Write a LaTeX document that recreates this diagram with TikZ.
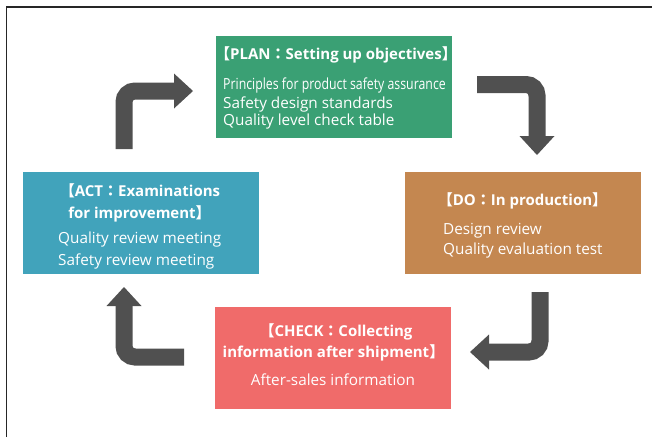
\documentclass[tikz,border=0pt]{standalone}
\usepackage{fontspec}
\usepackage{graphicx}
\setmainfont{Open Sans}
\newfontfamily\cjk{Noto Sans CJK JP}
\usetikzlibrary{arrows.meta}
\definecolor{plangreen}{RGB}{58,160,116}
\definecolor{dobrown}{RGB}{196,135,80}
\definecolor{checkred}{RGB}{240,107,106}
\definecolor{actblue}{RGB}{65,163,187}
\definecolor{arrowgray}{RGB}{80,80,80}
\newcommand{\lbr}{{\cjk 【}}
\newcommand{\rbr}{{\cjk 】}}
\newcommand{\fcolon}{{\cjk ：}}
\tikzset{
  stagebox/.style={rectangle,inner sep=0pt,minimum width=236pt,minimum height=102pt},
  headtext/.style={text=white,inner sep=0pt,font=\bfseries\fontsize{15}{18}\selectfont},
  bodytext/.style={text=white,inner sep=0pt,font=\fontsize{15.3}{18}\selectfont},
  turn/.style={draw=arrowgray,line width=17pt,rounded corners=11pt,
    -{Triangle[length=19pt,width=35pt,line width=0pt]}}
}
\begin{document}
\begin{tikzpicture}[x=1pt,y=-1pt]
  \useasboundingbox (0,0) rectangle (652,437);
  \draw[line width=1.5pt,black!85] (6.5,437) -- (6.5,7) -- (652,7);

  % the four stages
  \node[stagebox,fill=plangreen] (plan) at (333.5,87) {};
  \node[stagebox,fill=dobrown] (do) at (523,222.5) {};
  \node[stagebox,fill=checkred] (check) at (333,358) {};
  \node[stagebox,fill=actblue] (act) at (141,223) {};

  % texts
  \node[headtext,anchor=base] (planhead) at (336,59.5) {\lbr PLAN\fcolon Setting up objectives\rbr};
  \node[bodytext,anchor=base west] (plan1) at (223,89) {\scalebox{0.805}[1]{Principles for product safety assurance}};
  \node[bodytext,anchor=base west] (plan2) at (223,108) {Safety design standards};
  \node[bodytext,anchor=base west] (plan3) at (223,125) {Quality level check table};

  \node[headtext,anchor=base] (dohead) at (522.5,205) {\lbr DO\fcolon In production\rbr};
  \node[bodytext,anchor=base west] (do1) at (443,234) {Design review};
  \node[bodytext,anchor=base west] (do2) at (443,254) {Quality evaluation test};

  \node[headtext,anchor=base] (checkhead1) at (336,336) {\lbr CHECK\fcolon Collecting};
  \node[headtext,anchor=base] (checkhead2) at (333.5,357) {information after shipment\rbr};
  \node[bodytext,anchor=base] (check1) at (333,385) {After-sales information};

  \node[headtext,anchor=base] (acthead1) at (140,196) {\lbr ACT\fcolon Examinations};
  \node[headtext,anchor=base] (acthead2) at (139.5,218) {for improvement\rbr};
  \node[bodytext,anchor=base west] (act1) at (58,243) {Quality review meeting};
  \node[bodytext,anchor=base west] (act2) at (58,265) {Safety review meeting};

  % bent arrows between the stages
  \coordinate (a1s) at (124,149); \coordinate (a1c) at (124,91); \coordinate (a1e) at (193,91);
  \coordinate (a2s) at (477,84.5); \coordinate (a2c) at (537,84.5); \coordinate (a2e) at (537,155);
  \coordinate (a3s) at (540,292); \coordinate (a3c) at (540,352); \coordinate (a3e) at (470,352);
  \coordinate (a4s) at (184,357); \coordinate (a4c) at (124,357); \coordinate (a4e) at (124,287);
  \draw[turn] (a1s) -- (a1c) -- (a1e);
  \draw[turn] (a2s) -- (a2c) -- (a2e);
  \draw[turn] (a3s) -- (a3c) -- (a3e);
  \draw[turn] (a4s) -- (a4c) -- (a4e);
\end{tikzpicture}
\end{document}
